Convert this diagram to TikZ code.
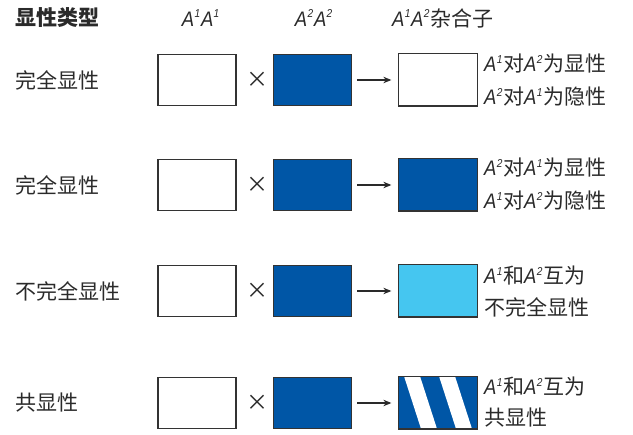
\documentclass[tikz,border=0pt]{standalone}
\usepackage{fontspec}
\usetikzlibrary{arrows.meta}
\newfontfamily\cjk{Noto Sans CJK SC}
\newfontfamily\afont[FakeStretch=0.88]{Liberation Sans}
\definecolor{dblue}{HTML}{0056A6}
\definecolor{lblue}{HTML}{45C6F0}
\definecolor{edge}{HTML}{333333}
\definecolor{txt}{HTML}{2A2A2A}
\newcommand\AS[1]{{\afont\itshape A\kern0.02em\raisebox{0.42em}{\fontsize{11.5}{11.5}\selectfont #1}\kern0.03em}}
\begin{document}
\begin{tikzpicture}[x=1pt,y=-1pt,
  box/.style={draw=edge,line width=1.3pt,minimum width=78pt,minimum height=51pt,inner sep=0pt},
  lbl/.style={anchor=west,inner sep=0pt,text=txt,font=\cjk\fontsize{21}{21}\selectfont},
  hdr/.style={inner sep=0pt,text=txt,font=\cjk\fontsize{21}{21}\selectfont},
  times/.style={inner sep=0pt,text=txt,font=\cjk\fontsize{22}{22}\selectfont},
  arr/.style={draw=txt,line width=1.1pt,-{Stealth[length=8pt,width=6.5pt]}}]
\useasboundingbox (0,0) rectangle (633,435);
% headers
\node[hdr,anchor=west,font=\cjk\bfseries\fontsize{21}{21}\selectfont] (h0) at (15,18) {显性类型};
\node[hdr] (h1) at (201,18) {\AS{1}\AS{1}};
\node[hdr] (h2) at (314,18) {\AS{2}\AS{2}};
\node[hdr,anchor=west] (h3) at (392,18) {\AS{1}\AS{2}杂合子};
% rows
\foreach \r/\y/\lab in {1/80/完全显性,2/185/完全显性,3/291/不完全显性,4/403/共显性}{
  \node[lbl] (l\r) at (15,\y) {\lab};
  \node[box,fill=white] (a\r) at (197,\y) {};
  \node[times] (x\r) at (257,\y) {×};
  \node[box,fill=dblue] (b\r) at (312.5,\y) {};
  \node[box] (c\r) at (438,\y) {};
  \draw[arr] ([xshift=5pt]b\r.east) -- ([xshift=-7pt]c\r.west);
}
\fill[white] (c1.north west) rectangle (c1.south east);
\draw[edge,line width=1.3pt] (c1.north west) rectangle (c1.south east);
\fill[dblue] (c2.north west) rectangle (c2.south east);
\draw[edge,line width=1.3pt] (c2.north west) rectangle (c2.south east);
\fill[lblue] (c3.north west) rectangle (c3.south east);
\draw[edge,line width=1.3pt] (c3.north west) rectangle (c3.south east);
\begin{scope}
  \clip (c4.north west) rectangle (c4.south east);
  \fill[dblue] (c4.north west) rectangle (c4.south east);
  \fill[white] (402,370) -- (418,370) -- (439,435) -- (423,435) -- cycle;
  \fill[white] (437,370) -- (453,370) -- (474,435) -- (458,435) -- cycle;
\end{scope}
\draw[edge,line width=1.3pt] (c4.north west) rectangle (c4.south east);
% right texts
\node[lbl] (r1a) at (484,64) {\AS{1}对\AS{2}为显性};
\node[lbl] (r1b) at (484,97) {\AS{2}对\AS{1}为隐性};
\node[lbl] (r2a) at (484,168) {\AS{2}对\AS{1}为显性};
\node[lbl] (r2b) at (484,201) {\AS{1}对\AS{2}为隐性};
\node[lbl] (r3a) at (484,276) {\AS{1}和\AS{2}互为};
\node[lbl] (r3b) at (484,307) {不完全显性};
\node[lbl] (r4a) at (484,387) {\AS{1}和\AS{2}互为};
\node[lbl] (r4b) at (484,418) {共显性};
\end{tikzpicture}
\end{document}
